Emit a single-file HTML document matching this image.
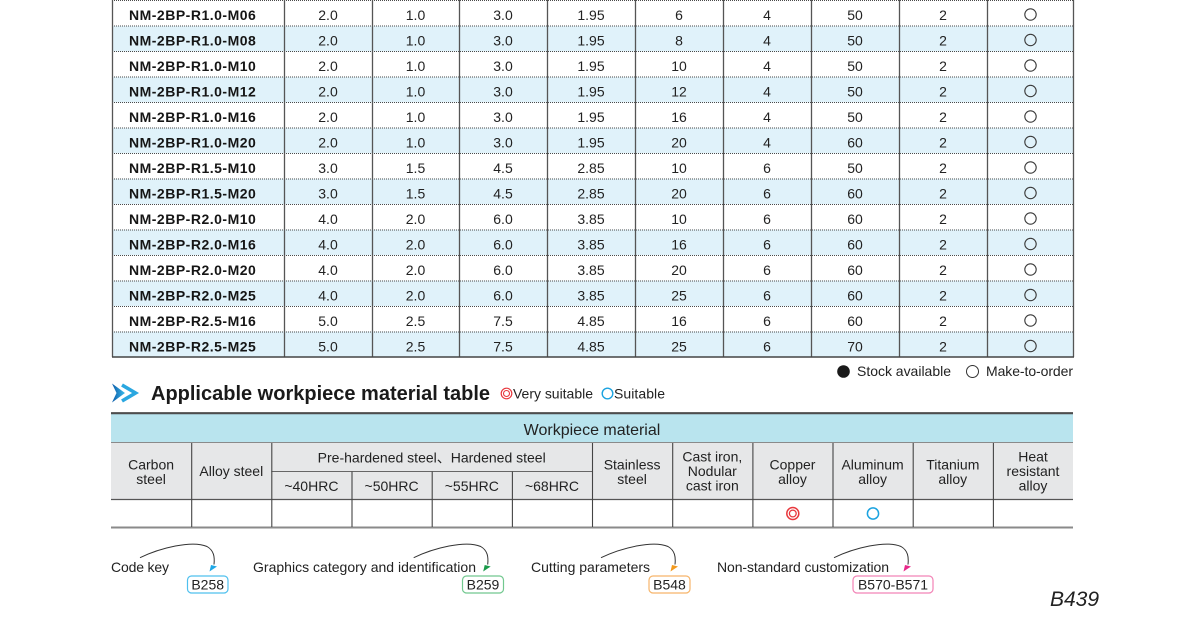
<!DOCTYPE html>
<html>
<head>
<meta charset="utf-8">
<style>
html,body{margin:0;padding:0;background:#fff;}
svg{display:block;}
text{font-family:"Liberation Sans","Noto Sans CJK JP",Arial,sans-serif;fill:#222;}
.m{font-size:14px;font-weight:bold;fill:#151515;letter-spacing:0.5px;}
.n{font-size:14px;text-anchor:middle;}
.h{font-size:14px;text-anchor:middle;}
.l{font-size:14px;}
</style>
</head>
<body>
<svg width="1187" height="619" viewBox="0 0 1187 619" xmlns="http://www.w3.org/2000/svg">
<defs>
<linearGradient id="g1" x1="0" y1="0" x2="1" y2="0">
<stop offset="0" stop-color="#0b5aa8"/>
<stop offset="1" stop-color="#3bbcec"/>
</linearGradient>
</defs>

<!-- main table row backgrounds -->
<g fill="#e0f2fa">
<rect x="112" y="25.96" width="962" height="25.46"/>
<rect x="112" y="76.88" width="962" height="25.46"/>
<rect x="112" y="127.8" width="962" height="25.46"/>
<rect x="112" y="178.72" width="962" height="25.46"/>
<rect x="112" y="229.64" width="962" height="25.46"/>
<rect x="112" y="280.56" width="962" height="25.46"/>
<rect x="112" y="331.48" width="962" height="25.46"/>
</g>
<!-- dotted lines -->
<g stroke="#4a4a4a" stroke-width="1" stroke-dasharray="1 1">
<line x1="112" x2="1074" y1="0.5" y2="0.5"/>
<line x1="112" x2="1074" y1="26" y2="26"/>
<line x1="112" x2="1074" y1="51.5" y2="51.5"/>
<line x1="112" x2="1074" y1="77" y2="77"/>
<line x1="112" x2="1074" y1="102.5" y2="102.5"/>
<line x1="112" x2="1074" y1="128" y2="128"/>
<line x1="112" x2="1074" y1="153.5" y2="153.5"/>
<line x1="112" x2="1074" y1="179" y2="179"/>
<line x1="112" x2="1074" y1="204.5" y2="204.5"/>
<line x1="112" x2="1074" y1="230" y2="230"/>
<line x1="112" x2="1074" y1="255.5" y2="255.5"/>
<line x1="112" x2="1074" y1="281" y2="281"/>
<line x1="112" x2="1074" y1="306.5" y2="306.5"/>
<line x1="112" x2="1074" y1="332" y2="332"/>
</g>
<!-- verticals -->
<g stroke="#555" stroke-width="1.3">
<line x1="112.5" x2="112.5" y1="0" y2="357"/>
<line x1="284.5" x2="284.5" y1="0" y2="357"/>
<line x1="372.5" x2="372.5" y1="0" y2="357"/>
<line x1="459.5" x2="459.5" y1="0" y2="357"/>
<line x1="547.5" x2="547.5" y1="0" y2="357"/>
<line x1="635.5" x2="635.5" y1="0" y2="357"/>
<line x1="723.5" x2="723.5" y1="0" y2="357"/>
<line x1="811.5" x2="811.5" y1="0" y2="357"/>
<line x1="899.5" x2="899.5" y1="0" y2="357"/>
<line x1="987.5" x2="987.5" y1="0" y2="357"/>
<line x1="1073.5" x2="1073.5" y1="0" y2="357"/>
</g>
<line x1="112" x2="1074" y1="357" y2="357" stroke="#444" stroke-width="1.6"/>

<!-- row texts -->
<g>
<text class="m" x="129" y="20">NM-2BP-R1.0-M06</text>
<text class="m" x="129" y="45.5">NM-2BP-R1.0-M08</text>
<text class="m" x="129" y="71">NM-2BP-R1.0-M10</text>
<text class="m" x="129" y="96.5">NM-2BP-R1.0-M12</text>
<text class="m" x="129" y="122">NM-2BP-R1.0-M16</text>
<text class="m" x="129" y="147.5">NM-2BP-R1.0-M20</text>
<text class="m" x="129" y="173">NM-2BP-R1.5-M10</text>
<text class="m" x="129" y="198.5">NM-2BP-R1.5-M20</text>
<text class="m" x="129" y="224">NM-2BP-R2.0-M10</text>
<text class="m" x="129" y="249.5">NM-2BP-R2.0-M16</text>
<text class="m" x="129" y="275">NM-2BP-R2.0-M20</text>
<text class="m" x="129" y="300.5">NM-2BP-R2.0-M25</text>
<text class="m" x="129" y="326">NM-2BP-R2.5-M16</text>
<text class="m" x="129" y="351.5">NM-2BP-R2.5-M25</text>
</g>
<g class="n">
<text class="n" x="328" y="20">2.0</text><text class="n" x="415.5" y="20">1.0</text><text class="n" x="503" y="20">3.0</text><text class="n" x="591" y="20">1.95</text><text class="n" x="679" y="20">6</text><text class="n" x="767" y="20">4</text><text class="n" x="855" y="20">50</text><text class="n" x="943" y="20">2</text>
<text class="n" x="328" y="45.5">2.0</text><text class="n" x="415.5" y="45.5">1.0</text><text class="n" x="503" y="45.5">3.0</text><text class="n" x="591" y="45.5">1.95</text><text class="n" x="679" y="45.5">8</text><text class="n" x="767" y="45.5">4</text><text class="n" x="855" y="45.5">50</text><text class="n" x="943" y="45.5">2</text>
<text class="n" x="328" y="71">2.0</text><text class="n" x="415.5" y="71">1.0</text><text class="n" x="503" y="71">3.0</text><text class="n" x="591" y="71">1.95</text><text class="n" x="679" y="71">10</text><text class="n" x="767" y="71">4</text><text class="n" x="855" y="71">50</text><text class="n" x="943" y="71">2</text>
<text class="n" x="328" y="96.5">2.0</text><text class="n" x="415.5" y="96.5">1.0</text><text class="n" x="503" y="96.5">3.0</text><text class="n" x="591" y="96.5">1.95</text><text class="n" x="679" y="96.5">12</text><text class="n" x="767" y="96.5">4</text><text class="n" x="855" y="96.5">50</text><text class="n" x="943" y="96.5">2</text>
<text class="n" x="328" y="122">2.0</text><text class="n" x="415.5" y="122">1.0</text><text class="n" x="503" y="122">3.0</text><text class="n" x="591" y="122">1.95</text><text class="n" x="679" y="122">16</text><text class="n" x="767" y="122">4</text><text class="n" x="855" y="122">50</text><text class="n" x="943" y="122">2</text>
<text class="n" x="328" y="147.5">2.0</text><text class="n" x="415.5" y="147.5">1.0</text><text class="n" x="503" y="147.5">3.0</text><text class="n" x="591" y="147.5">1.95</text><text class="n" x="679" y="147.5">20</text><text class="n" x="767" y="147.5">4</text><text class="n" x="855" y="147.5">60</text><text class="n" x="943" y="147.5">2</text>
<text class="n" x="328" y="173">3.0</text><text class="n" x="415.5" y="173">1.5</text><text class="n" x="503" y="173">4.5</text><text class="n" x="591" y="173">2.85</text><text class="n" x="679" y="173">10</text><text class="n" x="767" y="173">6</text><text class="n" x="855" y="173">50</text><text class="n" x="943" y="173">2</text>
<text class="n" x="328" y="198.5">3.0</text><text class="n" x="415.5" y="198.5">1.5</text><text class="n" x="503" y="198.5">4.5</text><text class="n" x="591" y="198.5">2.85</text><text class="n" x="679" y="198.5">20</text><text class="n" x="767" y="198.5">6</text><text class="n" x="855" y="198.5">60</text><text class="n" x="943" y="198.5">2</text>
<text class="n" x="328" y="224">4.0</text><text class="n" x="415.5" y="224">2.0</text><text class="n" x="503" y="224">6.0</text><text class="n" x="591" y="224">3.85</text><text class="n" x="679" y="224">10</text><text class="n" x="767" y="224">6</text><text class="n" x="855" y="224">60</text><text class="n" x="943" y="224">2</text>
<text class="n" x="328" y="249.5">4.0</text><text class="n" x="415.5" y="249.5">2.0</text><text class="n" x="503" y="249.5">6.0</text><text class="n" x="591" y="249.5">3.85</text><text class="n" x="679" y="249.5">16</text><text class="n" x="767" y="249.5">6</text><text class="n" x="855" y="249.5">60</text><text class="n" x="943" y="249.5">2</text>
<text class="n" x="328" y="275">4.0</text><text class="n" x="415.5" y="275">2.0</text><text class="n" x="503" y="275">6.0</text><text class="n" x="591" y="275">3.85</text><text class="n" x="679" y="275">20</text><text class="n" x="767" y="275">6</text><text class="n" x="855" y="275">60</text><text class="n" x="943" y="275">2</text>
<text class="n" x="328" y="300.5">4.0</text><text class="n" x="415.5" y="300.5">2.0</text><text class="n" x="503" y="300.5">6.0</text><text class="n" x="591" y="300.5">3.85</text><text class="n" x="679" y="300.5">25</text><text class="n" x="767" y="300.5">6</text><text class="n" x="855" y="300.5">60</text><text class="n" x="943" y="300.5">2</text>
<text class="n" x="328" y="326">5.0</text><text class="n" x="415.5" y="326">2.5</text><text class="n" x="503" y="326">7.5</text><text class="n" x="591" y="326">4.85</text><text class="n" x="679" y="326">16</text><text class="n" x="767" y="326">6</text><text class="n" x="855" y="326">60</text><text class="n" x="943" y="326">2</text>
<text class="n" x="328" y="351.5">5.0</text><text class="n" x="415.5" y="351.5">2.5</text><text class="n" x="503" y="351.5">7.5</text><text class="n" x="591" y="351.5">4.85</text><text class="n" x="679" y="351.5">25</text><text class="n" x="767" y="351.5">6</text><text class="n" x="855" y="351.5">70</text><text class="n" x="943" y="351.5">2</text>
</g>
<g fill="none" stroke="#3a3a3a" stroke-width="1.1">
<circle cx="1030.5" cy="14.5" r="5.7"/>
<circle cx="1030.5" cy="40" r="5.7"/>
<circle cx="1030.5" cy="65.5" r="5.7"/>
<circle cx="1030.5" cy="91" r="5.7"/>
<circle cx="1030.5" cy="116.5" r="5.7"/>
<circle cx="1030.5" cy="142" r="5.7"/>
<circle cx="1030.5" cy="167.5" r="5.7"/>
<circle cx="1030.5" cy="193" r="5.7"/>
<circle cx="1030.5" cy="218.5" r="5.7"/>
<circle cx="1030.5" cy="244" r="5.7"/>
<circle cx="1030.5" cy="269.5" r="5.7"/>
<circle cx="1030.5" cy="295" r="5.7"/>
<circle cx="1030.5" cy="320.5" r="5.7"/>
<circle cx="1030.5" cy="346" r="5.7"/>
</g>

<!-- stock legend -->
<circle cx="843.5" cy="371.5" r="6.3" fill="#1a1a1a"/>
<text class="l" x="857" y="376" textLength="94">Stock available</text>
<circle cx="972.5" cy="371.5" r="6" fill="none" stroke="#333" stroke-width="1"/>
<text class="l" x="986" y="376" textLength="87">Make-to-order</text>

<!-- heading -->
<polygon points="112,383.5 125,393 112,402.5 116.5,393" fill="url(#g1)"/>
<polyline points="122,385 135.5,393 122,401" fill="none" stroke="#2aa7e0" stroke-width="3.6"/>
<text x="151" y="400" style="font-size:20px;font-weight:bold;fill:#1a1a1a" textLength="339">Applicable workpiece material table</text>
<circle cx="506.5" cy="393.5" r="5.3" fill="none" stroke="#e8383d" stroke-width="1.2"/>
<circle cx="506.5" cy="393.5" r="3" fill="none" stroke="#e8383d" stroke-width="1.1"/>
<text class="l" x="513" y="398.5" textLength="80">Very suitable</text>
<circle cx="607.5" cy="393.5" r="5.3" fill="none" stroke="#1ca3e0" stroke-width="1.4"/>
<text class="l" x="614" y="398.5" textLength="51">Suitable</text>

<!-- material table -->
<rect x="111" y="414" width="962" height="28" fill="#b9e4ee"/>
<rect x="111" y="442" width="962" height="57" fill="#e6e7e8"/>
<line x1="111" x2="1073" y1="413.2" y2="413.2" stroke="#4d4d4d" stroke-width="2.2"/>
<line x1="111" x2="1073" y1="442.5" y2="442.5" stroke="#8a8a8a" stroke-width="1"/>
<line x1="271.3" x2="592" y1="471.5" y2="471.5" stroke="#666" stroke-width="1"/>
<line x1="111" x2="1073" y1="499.5" y2="499.5" stroke="#555" stroke-width="1.2"/>
<line x1="111" x2="1073" y1="527.5" y2="527.5" stroke="#8a8a8a" stroke-width="2"/>
<g stroke="#444" stroke-width="1.1">
<line x1="191.7" x2="191.7" y1="443" y2="527"/>
<line x1="271.8" x2="271.8" y1="443" y2="527"/>
<line x1="352" x2="352" y1="471.5" y2="527"/>
<line x1="432.2" x2="432.2" y1="471.5" y2="527"/>
<line x1="512.4" x2="512.4" y1="471.5" y2="527"/>
<line x1="592.5" x2="592.5" y1="443" y2="527"/>
<line x1="672.7" x2="672.7" y1="443" y2="527"/>
<line x1="752.9" x2="752.9" y1="443" y2="527"/>
<line x1="833" x2="833" y1="443" y2="527"/>
<line x1="913.2" x2="913.2" y1="443" y2="527"/>
<line x1="993.4" x2="993.4" y1="443" y2="527"/>
</g>
<text x="592" y="435" style="font-size:16px;text-anchor:middle">Workpiece material</text>
<text class="h" x="151.1" y="469.5">Carbon</text><text class="h" x="151.1" y="484">steel</text>
<text class="h" x="231.3" y="476">Alloy steel</text>
<text class="h" x="431.7" y="462.5">Pre-hardened steel、Hardened steel</text>
<text class="h" x="311.4" y="491">~40HRC</text>
<text class="h" x="391.6" y="491">~50HRC</text>
<text class="h" x="471.8" y="491">~55HRC</text>
<text class="h" x="552" y="491">~68HRC</text>
<text class="h" x="632.1" y="469.5">Stainless</text><text class="h" x="632.1" y="484">steel</text>
<text class="h" x="712.3" y="461.7">Cast iron,</text><text class="h" x="712.3" y="476">Nodular</text><text class="h" x="712.3" y="490.5">cast iron</text>
<text class="h" x="792.5" y="469.5">Copper</text><text class="h" x="792.5" y="484">alloy</text>
<text class="h" x="872.6" y="469.5">Aluminum</text><text class="h" x="872.6" y="484">alloy</text>
<text class="h" x="952.8" y="469.5">Titanium</text><text class="h" x="952.8" y="484">alloy</text>
<text class="h" x="1033" y="461.7">Heat</text><text class="h" x="1033" y="476">resistant</text><text class="h" x="1033" y="490.5">alloy</text>
<circle cx="792.8" cy="513.5" r="6" fill="none" stroke="#e8383d" stroke-width="1.5"/>
<circle cx="792.8" cy="513.5" r="3.4" fill="none" stroke="#e8383d" stroke-width="1.3"/>
<circle cx="873" cy="513.5" r="5.6" fill="none" stroke="#1ca3e0" stroke-width="1.5"/>

<!-- bottom references -->
<text class="l" x="111" y="572" textLength="58">Code key</text>
<text class="l" x="253" y="572" textLength="223">Graphics category and identification</text>
<text class="l" x="531" y="572">Cutting parameters</text>
<text class="l" x="717" y="572" textLength="172">Non-standard customization</text>

<path d="M140,557.7 C160,548 192,540 207,546.5 C214,550.5 214.8,557 214,564.5" fill="none" stroke="#333" stroke-width="1"/>
<polygon points="209.5,571.5 211,565 217,566.5" fill="#1fa8e6"/>
<path d="M413.7,557.7 C433.7,548 465.7,540 480.7,546.5 C487.7,550.5 488.5,557 487.7,564.5" fill="none" stroke="#333" stroke-width="1"/>
<polygon points="483.2,571.5 484.7,565 490.7,566.5" fill="#1a9a4a"/>
<path d="M601,557.7 C621,548 653,540 668,546.5 C675,550.5 675.8,557 675,564.5" fill="none" stroke="#333" stroke-width="1"/>
<polygon points="670.5,571.5 672,565 678,566.5" fill="#f39a1e"/>
<path d="M834,557.7 C854,548 886,540 901,546.5 C908,550.5 908.8,557 908,564.5" fill="none" stroke="#333" stroke-width="1"/>
<polygon points="903.5,571.5 905,565 911,566.5" fill="#e8288a"/>

<rect x="187.5" y="576" width="40.5" height="17" rx="4" fill="#fff" stroke="#4fc0ee" stroke-width="1.2"/>
<text class="n" x="207.7" y="589.5">B258</text>
<rect x="462.5" y="576" width="41" height="17" rx="4" fill="#fff" stroke="#72c88f" stroke-width="1.2"/>
<text class="n" x="483" y="589.5">B259</text>
<rect x="649" y="576" width="41" height="17" rx="4" fill="#fff" stroke="#f6b56b" stroke-width="1.2"/>
<text class="n" x="669.5" y="589.5">B548</text>
<rect x="853" y="576" width="80" height="17" rx="4" fill="#fff" stroke="#f283b6" stroke-width="1.2"/>
<text class="n" x="893" y="589.5">B570-B571</text>

<text x="1050" y="606" style="font-size:21px;font-style:italic;fill:#222">B439</text>
</svg>
</body>
</html>
